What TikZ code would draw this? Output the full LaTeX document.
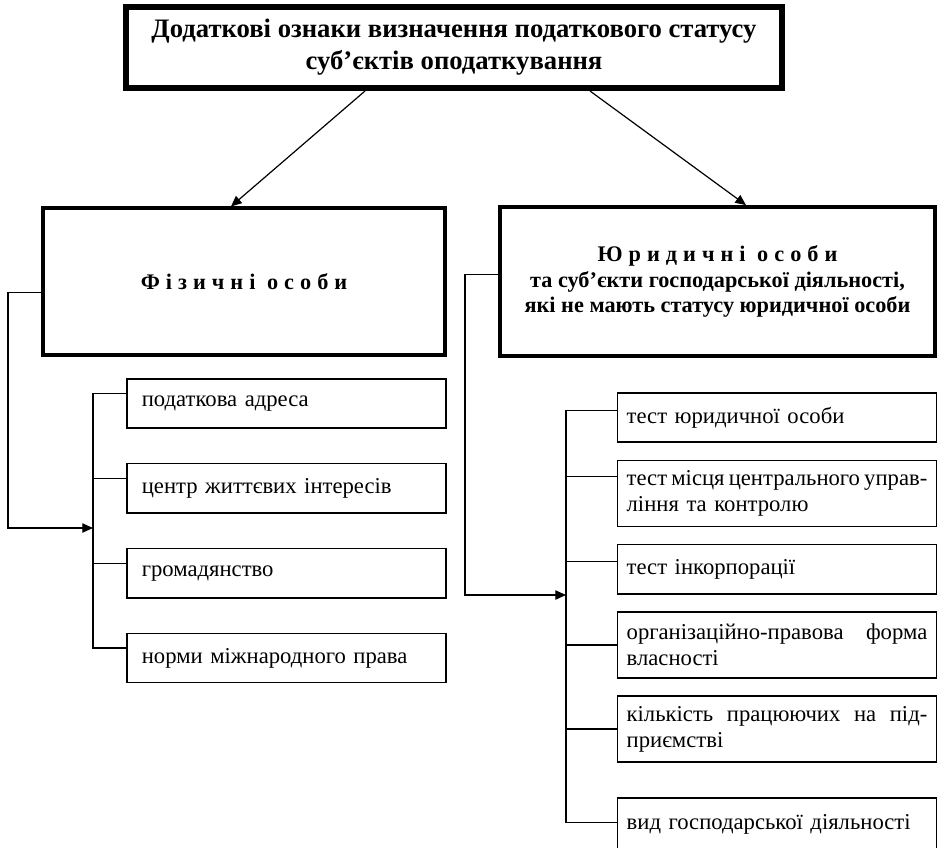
\documentclass[tikz,border=0pt]{standalone}
\usepackage{fontspec}
\setmainfont{Liberation Serif}
\newfontfamily\spacedfont[LetterSpace=27]{Liberation Serif}
\usetikzlibrary{arrows.meta, positioning}

\begin{document}
\begin{tikzpicture}[
  x=0.75pt, y=-0.75pt,
  head/.style={rectangle, draw, line width=4.5pt, minimum width=492pt, minimum height=60.75pt, align=center, font=\fontsize{20}{24}\selectfont\bfseries},
  group/.style={rectangle, draw, line width=2.6pt, minimum height=110pt, align=center, font=\fontsize{16.7}{19}\selectfont\bfseries},
  item/.style={rectangle, draw, line width=1.1pt, minimum width=239pt, minimum height=37pt, inner xsep=11pt, text width=217pt, align=left, font=\fontsize{17}{19.5}\selectfont},
  test/.style={item, inner xsep=6.5pt, text width=225.5pt},
  tall/.style={minimum height=49.5pt},
  flow/.style={line width=0.9pt, -{Triangle[length=8pt,width=7pt]}},
  link/.style={line width=0.9pt}
]
\useasboundingbox (0,0) rectangle (941,847);

% Nodes
\node[head] (title) at (454,47.5) {Додаткові ознаки визначення податкового статусу\\суб’єктів оподаткування};
\node[group, minimum width=301.5pt] (phys) at (244,281.5) {\spacedfont Фізичні особи};
\node[group, minimum width=326pt, minimum height=112pt] (jur) at (717.5,281.5) {{\spacedfont Юридичні особи}\\та суб’єкти господарської діяльності,\\які не мають статусу юридичної особи};

% features of individuals
\node[item] (f1) at (286.5,403.5) {податкова адреса};
\node[item, below=25.5pt of f1] (f2) {центр життєвих інтересів};
\node[item, below=25.5pt of f2] (f3) {громадянство};
\node[item, below=25.5pt of f3] (f4) {норми міжнародного права};

% features of legal entities
\node[test] (j1) at (777,417.5) {тест юридичної особи};
\node[test, tall, below=12.5pt of j1] (j2) {тест\hfill місця\hfill центрального\hfill управ-\\ління та контролю};
\node[test, below=12.5pt of j2] (j3) {тест інкорпорації};
\node[test, tall, below=12.5pt of j3] (j4) {організаційно-правова\hfill форма\\власності};
\node[test, tall, below=12.5pt of j4] (j5) {кількість\hfill працюючих\hfill на\hfill під-\\приємстві};
\node[test, minimum height=40pt, below=26pt of j5] (j6) {вид господарської діяльності};

% Connections
\draw[flow] ([xshift=-66.75pt]title.south) -- ([xshift=-9.75pt]phys.north);
\draw[flow] ([xshift=102pt]title.south) -- ([xshift=21.4pt]jur.north);

\coordinate (ltrunk) at (93,393);
\foreach \n in {f1,f2,f3,f4}
  \draw[link] ([yshift=7.5pt]\n.west) -| (ltrunk);
\coordinate (rtrunk) at (566,410);
\foreach \n/\s in {j1/5.5,j2/12.5,j3/6,j4/0,j5/0,j6/1.5}
  \draw[link] ([yshift=\s pt]\n.west) -| (rtrunk);

\coordinate (lturn) at (8,528);
\coordinate (lin) at (93,528);
\draw[flow] ([yshift=-8pt]phys.west) -| (lturn) -- (lin);
\coordinate (rturn) at (465,595);
\coordinate (rin) at (566,595);
\draw[flow] ([yshift=5pt]jur.west) -| (rturn) -- (rin);

\end{tikzpicture}
\end{document}
